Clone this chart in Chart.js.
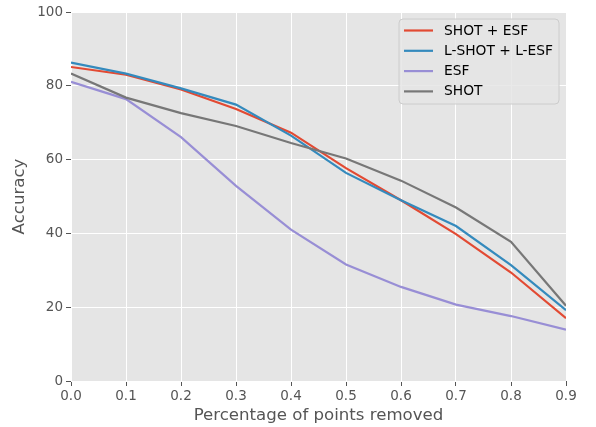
<!DOCTYPE html>
<html>
<head>
<meta charset="utf-8">
<script src="https://cdn.jsdelivr.net/npm/chart.js@4/dist/chart.umd.min.js"></script>
<style>
html,body{margin:0;padding:0;background:#fff;}
#wrap{width:596px;height:427px;}
</style>
</head>
<body>
<div id="wrap"><canvas id="c" width="596" height="427"></canvas></div>
<script>
const xValues = [0.0, 0.1, 0.2, 0.3, 0.4, 0.5, 0.6, 0.7, 0.8, 0.9];
const shotEsf = [85.1, 83.0, 79.0, 73.7, 67.3, 57.7, 49.0, 39.8, 29.4, 17.0];
const lShotLEsf = [86.3, 83.3, 79.3, 74.9, 66.5, 56.4, 49.0, 42.0, 31.4, 19.2];
const esf = [81.1, 76.4, 66.1, 52.9, 41.0, 31.6, 25.5, 20.7, 17.6, 13.9];
const shot = [83.3, 76.8, 72.6, 69.1, 64.5, 60.3, 54.3, 47.0, 37.7, 20.4];
const seriesNames = ['SHOT + ESF', 'L-SHOT + L-ESF', 'ESF', 'SHOT'];
const seriesColors = ['#E24A33', '#348ABD', '#988ED5', '#777777'];
const xTicks = [0.0, 0.1, 0.2, 0.3, 0.4, 0.5, 0.6, 0.7, 0.8, 0.9];
const yTicks = [0, 20, 40, 60, 80, 100];

const allSeries = [shotEsf, lShotLEsf, esf, shot];
const datasets = allSeries.map((vals, i) => ({
  label: seriesNames[i],
  data: vals.map((v, j) => ({x: xValues[j], y: v})),
  borderColor: seriesColors[i],
  backgroundColor: seriesColors[i],
  borderWidth: 2.2,
  pointRadius: 0,
  tension: 0,
  fill: false,
  order: allSeries.length - i
}));

const FONT = 'DejaVu Sans';

const bgPlugin = {
  id: 'bg',
  beforeDraw(chart) {
    const {ctx, chartArea: a} = chart;
    ctx.save();
    ctx.fillStyle = '#E5E5E5';
    ctx.fillRect(a.left, a.top, a.right - a.left, a.bottom - a.top);
    ctx.restore();
  }
};

const legendPlugin = {
  id: 'insideLegend',
  afterDatasetsDraw(chart) {
    const ctx = chart.ctx;
    const x0 = 399, y0 = 19, w = 160, h = 85, r = 4;
    ctx.save();
    ctx.beginPath();
    ctx.moveTo(x0 + r, y0);
    ctx.arcTo(x0 + w, y0, x0 + w, y0 + h, r);
    ctx.arcTo(x0 + w, y0 + h, x0, y0 + h, r);
    ctx.arcTo(x0, y0 + h, x0, y0, r);
    ctx.arcTo(x0, y0, x0 + w, y0, r);
    ctx.closePath();
    ctx.fillStyle = 'rgba(229,229,229,0.85)';
    ctx.fill();
    ctx.strokeStyle = '#CCCCCC';
    ctx.lineWidth = 1;
    ctx.stroke();
    ctx.font = '13.8px "' + FONT + '"';
    ctx.textBaseline = 'middle';
    chart.data.datasets.forEach((ds, i) => {
      const y = 30.5 + i * 20.3;
      ctx.beginPath();
      ctx.strokeStyle = ds.borderColor;
      ctx.lineWidth = 2.2;
      ctx.moveTo(404, y);
      ctx.lineTo(433, y);
      ctx.stroke();
      ctx.fillStyle = '#000000';
      ctx.fillText(ds.label, 444, y + 0.5);
    });
    ctx.restore();
  }
};

new Chart(document.getElementById('c'), {
  type: 'line',
  data: {datasets},
  options: {
    responsive: false,
    animation: false,
    devicePixelRatio: 1,
    layout: {padding: {left: 0, right: 30, top: 12, bottom: 0}},
    plugins: {legend: {display: false}, tooltip: {enabled: false}},
    scales: {
      x: {
        type: 'linear',
        min: 0, max: 0.9,
        afterBuildTicks(s) { s.ticks = xTicks.map(v => ({value: v})); },
        afterFit(s) { s.height = 46; },
        ticks: {
          color: '#555555',
          font: {family: FONT, size: 13.5},
          padding: 2,
          maxRotation: 0,
          callback: v => Number(v).toFixed(1)
        },
        grid: {color: '#FFFFFF', lineWidth: 1, tickColor: '#555555', tickLength: 5, drawOnChartArea: true},
        border: {display: false},
        title: {display: true, text: 'Percentage of points removed', color: '#555555',
          font: {family: FONT, size: 16.6}, padding: {top: 0, bottom: 1.2}}
      },
      y: {
        type: 'linear',
        min: 0, max: 100,
        afterBuildTicks(s) { s.ticks = yTicks.map(v => ({value: v})); },
        afterFit(s) { s.width = 71; },
        ticks: {
          color: '#555555',
          font: {family: FONT, size: 13.5},
          padding: 3
        },
        grid: {color: '#FFFFFF', lineWidth: 1, tickColor: '#555555', tickLength: 5},
        border: {display: false},
        title: {display: true, text: 'Accuracy', color: '#555555',
          font: {family: FONT, size: 16.6}, padding: {top: 10, bottom: 0}}
      }
    }
  },
  plugins: [bgPlugin, legendPlugin]
});
</script>
</body>
</html>
